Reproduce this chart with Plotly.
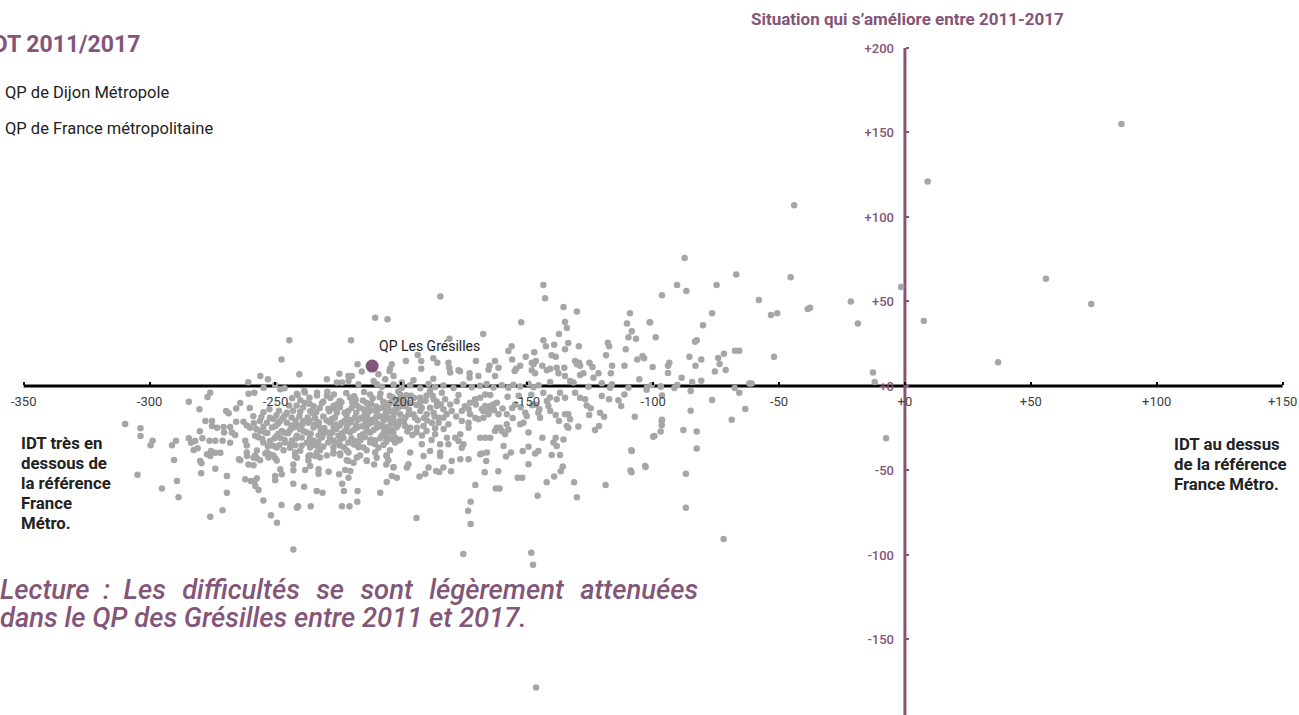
import plotly.graph_objects as go

W, H = 1299, 715
PURPLE = "#835578"
GREY = "#a6a6a6"

x_ticks = [-350, -300, -250, -200, -150, -100, -50, 0, 50, 100, 150]
x_labels = ["-350", "-300", "-250", "-200", "-150", "-100", "-50", "+0", "+50", "+100", "+150"]
y_ticks = [200, 150, 100, 50, 0, -50, -100, -150]
y_labels = ["+200", "+150", "+100", "+50", "+0", "-50", "-100", "-150"]

highlight_x = [-211.6]
highlight_y = [11.8]

pts_right = [(86, 155), (9, 121), (-44, 107), (56, 63.5), (74, 48.5), (7.5, 38.5), (37, 14), (-1.5, 58.6),
    (-21.5, 50), (-18.7, 37), (-12.7, 8), (-12, 2.4), (-7.5, -31), (-87.5, 75.8), (-67, 66), (-45.4, 64.3),
    (-90.5, 59.8), (-74.8, 59.8), (-86.8, 56.2), (-96.5, 53.7), (-58, 50.9), (-37.7, 46.3), (-38.6, 45.6),
    (-50.7, 43), (-53.2, 42), (-76.6, 43), (-101.4, 37.7), (-80.2, 35.9), (-99, 28.8), (-82.7, 27), (-83.4, 26.2),
    (-67.5, 20.9), (-65.8, 20.9), (-71.9, 19.1), (-74.2, 16.6), (-52, 17.3), (-85.6, 17.3), (-80.9, 15.6),
    (-104.2, 17.8), (-103.6, 16.4), (-93.6, 13.8), (-94.1, 12), (-100.2, 11.2), (-83.2, 12), (-73.6, 13),
    (-71.2, 9.5), (-75.5, 8.5), (-94.1, 7.7), (-88.7, 4.9), (-84.5, 2.4), (-80.9, 3.1), (-60.9, 1.4), (-61.8, 1.4),
    (-100.6, 0.6), (-97, -0.2), (-90.4, 0.6), (-91.6, -1.2), (-85.1, -3), (-67.6, -1.2), (-65.8, -4), (-96.5, -5.7),
    (-102.6, -2.2), (-76.6, -8.3), (-63.4, -13.6), (-85.1, -14.6), (-96.5, -20), (-68.8, -20), (-88, -26),
    (-82.7, -27), (-82.7, -37), (-97, -27), (-100, -30), (-87, -52), (-87, -72), (-72, -90.5), (-103, -48),
    (-109, -50), (-108.7, -38)]

pts_upper = [(-143.6, 59.8), (-142.9, 51.9), (-184.5, 52.9), (-205.5, 39.5), (-210.4, 40.3), (-135.6, 46.8),
    (-130.3, 44), (-109.2, 43), (-110.4, 36.9), (-108.5, 32.4), (-109.8, 28.8), (-106.8, 28), (-101.2, 37.7),
    (-152.4, 37.7), (-135, 37.9), (-134.3, 34.3), (-137.4, 30.8), (-167.5, 30.8), (-180.9, 28), (-143.6, 27),
    (-142.6, 23.5), (-139.3, 24.4), (-133.7, 25.5), (-129.5, 23.5), (-135, 21.7), (-156.2, 23.5), (-157.5, 20.7),
    (-147.2, 19.9), (-150.6, 17.3), (-156, 15.6), (-140.3, 18.2), (-138.7, 17.3), (-118, 25.6), (-117.5, 23.5),
    (-110.9, 21.7), (-118.7, 18.2), (-106.3, 15.6), (-111.4, 12), (-116.3, 12), (-116.8, 7.5), (-131, 14.8),
    (-129.4, 13.8), (-130.3, 12.8), (-125.3, 13.8), (-124.1, 11.2), (-129, 12), (-146.6, 14.8), (-148.2, 13.8),
    (-144, 12), (-147.5, 12.8), (-152.8, 12), (-154.4, 10.2), (-155, 8.9), (-148.2, 9.3), (-146.9, 7.5),
    (-138.3, 10.8), (-135.3, 10.8), (-142.2, 9.3), (-140.9, 10.2), (-137.6, 7.5), (-135, 5.9), (-127.7, 7.5),
    (-129, 6.5), (-121.7, 7.5), (-123.7, 4.9), (-133, 3), (-131.6, 2), (-140.9, 2.4), (-105.5, 4), (-120.4, 1.6),
    (-116.4, 1), (-125.7, -0.4), (-109.8, -1), (-102.5, -1), (-96.9, -0.4), (-117.1, -1), (-162.8, 14.8),
    (-165, 12), (-161.4, 10.8), (-165.4, 9.6), (-162.8, 5.9), (-170.4, 14.8), (-181.3, 13.8), (-181, 10.8),
    (-180.6, 7.9), (-177.3, 9.3), (-176.7, 8.7), (-172.9, 7.5), (-172.9, 4.9), (-169.4, 5.9), (-187.3, 16.4),
    (-185.7, 13.8), (-192.1, 10.2), (-192.1, 14.8), (-193.5, 18.4), (-198.2, 14.8), (-204.5, 10.2), (-195.2, 3.4),
    (-187.3, 4.3), (-199.8, 2), (-203.8, 12.8), (-204.7, 8.9), (-206.4, 4), (-203.1, 5.9), (-209.1, 6.9),
    (-211, 3), (-209.7, 1), (-217.4, 12.8), (-215.7, 8.5), (-220, 27), (-217, 1), (-229.6, 4), (-225.6, 2),
    (-223.6, 2), (-224.6, 7.3), (-221, 5.9), (-219.7, 5.9), (-221, 3), (-240.5, 6.9), (-247.6, 15.6), (-244.5, 27),
    (-260.8, 2.2), (-256, 5.9), (-253, 4), (-254.7, -1), (-250.1, 0.6), (-248.1, -2), (-246.4, -1.4),
    (-241.5, -4.6), (-238.6, -3), (-233.5, -4)]

pts_axis = [(-207.7, -0.5), (-203.1, 0.8), (-199.8, -1), (-196.5, 0.4), (-192.5, -1.4), (-189.2, 1.2), (-186.6, -0.6),
    (-183.3, 0.3), (-179.3, -1.2), (-175.4, 0.9), (-172, -0.7), (-168.7, 0.2), (-166.1, 1.1), (-163.4, -0.9),
    (-160.1, 0.5), (-157.5, -1.1), (-155.5, 0.7), (-152.8, -0.3), (-149.5, 1.3), (-147.5, -0.8), (-145.5, 0.4)]

pts_lower = [(-137, -4), (-135, -6.9), (-138.3, -7.9), (-131, -4), (-129, -6.9), (-127, -7.9), (-126.4, -11.5),
    (-124.8, -13.2), (-125.4, -17.2), (-120.4, -6), (-117.5, -7.9), (-113.8, -8.5), (-112.7, -11.9), (-111.4, -5),
    (-121.1, -15.8), (-119.5, -18.2), (-107.3, -18.2), (-96.6, -20.7), (-96.6, -23.3), (-99.5, -29.6),
    (-108.5, -38.5), (-103.2, -47.3), (-121.5, -23.7), (-123.1, -26), (-129.7, -24), (-133.7, -16.8), (-133, -19.7),
    (-135, -16.8), (-134.3, -23.7), (-133.7, -24.7), (-137.4, -20.7), (-138.7, -17.2), (-141.6, -11.9),
    (-140.9, -14.8), (-145.2, -13.8), (-144.9, -18.8), (-145.6, -15.8), (-143.6, -4), (-142.2, -8.9),
    (-150.8, -15.8), (-150.2, -17.8), (-151.5, -21.7), (-152.8, -22.7), (-149.5, -27.6), (-144, -30.6),
    (-138.7, -30.6), (-135.6, -31.6), (-139.6, -33.5), (-138.3, -35.5), (-140.3, -40.8), (-137, -40.8),
    (-135.9, -47.7), (-146.9, -40), (-145.6, -38.5), (-151.8, -38.5), (-149.5, -35.9), (-149.5, -46.3),
    (-156.5, -39.4), (-158.4, -41.8), (-159.4, -35.5), (-160.8, -24.7), (-158.1, -22.7), (-157.5, -25.7),
    (-158.8, -28.6), (-168.7, -30.6), (-166.7, -30.6), (-164.7, -30.6), (-166, -39.4), (-168, -40), (-166.3, -44.4),
    (-154.8, -10.9), (-158.1, -16.8), (-162.1, -24.7), (-160.1, -26.6), (-162.8, -26.6), (-192.8, -53.5),
    (-190.5, -51.9), (-186.2, -50.3), (-184.9, -50.9), (-180.3, -50.5), (-166.9, -51), (-161.5, -50.5),
    (-170.6, -58.6), (-162.5, -60.6), (-161, -60.6), (-153.8, -54.3), (-152, -54.3), (-142.3, -57), (-139.3, -53.5),
    (-136.7, -50.5), (-145.9, -64.9), (-131.4, -57), (-130.3, -65.9), (-118.9, -58.6), (-108.6, -51),
    (-172.5, -68.5), (-173.5, -73.8), (-172.5, -81.7), (-194, -78.1), (-175.4, -99.4), (-148.4, -98.7),
    (-147.7, -105.8), (-146.5, -178.4)]

pts_middle = [(-166.7, -5), (-164.7, -5.4), (-168.7, -6.9), (-170.7, -7.9), (-172.7, -9.9), (-177.3, -5.4),
    (-183.9, -4), (-182.6, -7.9), (-188.6, -3), (-187.2, -7.9), (-192.5, -6.9), (-196.5, -9.9), (-199.8, -11.9),
    (-204.4, -9.9), (-202.4, -13.8), (-198.5, -11.9), (-205.8, -14.8), (-207.7, -12.9), (-191.9, -12.9),
    (-188.6, -12.9), (-185.9, -11.9), (-183.3, -13.8), (-180.6, -10.9), (-180, -14.8), (-182, -16.8),
    (-185.2, -18.8), (-187.2, -15.8), (-189.9, -16.8), (-192.5, -14.8), (-195.2, -16.8), (-197.2, -16.8),
    (-200.5, -16.8), (-203.8, -18.8), (-206.4, -19.7), (-207.1, -24.7), (-204.4, -27.6), (-202.4, -30.6),
    (-200.5, -31.6), (-196.5, -24.7), (-198.5, -23.7), (-193.8, -24.7), (-191.2, -23.7), (-187.9, -21.7),
    (-185.2, -21.7), (-183.3, -18.8), (-181.3, -22.7), (-176, -14.8), (-172.7, -16.8), (-173.3, -13.8),
    (-167.4, -14.8), (-165.4, -13.8), (-163.4, -10.9), (-162.1, -9.9), (-164.7, -11.9), (-166.7, -11.9),
    (-168, -13.8), (-169.4, -19.7), (-167.4, -18.8), (-165.4, -16.8), (-161.4, -16.8), (-176, -20.7),
    (-173.3, -21.7), (-173.3, -24.7), (-176.6, -28.6), (-178.6, -30.6), (-177.3, -32.6), (-175.3, -34.5),
    (-181.3, -34.5), (-184.6, -34.5), (-191.9, -34.5), (-196.5, -39.4), (-188.6, -38.5), (-184.6, -39.4),
    (-184.6, -41.4), (-191.2, -41.4), (-181.9, -30.6), (-186.6, -28.6), (-197.2, -46.3), (-197.8, -48.3),
    (-203.1, -48.3), (-205.8, -41.4), (-176.6, -43.4), (-180, -44.4), (-173.3, -43.4), (-176, -36.5),
    (-168.7, -40.4), (-183.3, -48.3), (-189.2, -48.3)]

pts_far_left = [(-309.7, -22.5), (-303.6, -25), (-303.6, -29.6), (-298.8, -32.4), (-299.6, -35.1), (-304.8, -52.5),
    (-295.1, -60.6), (-289.1, -56.2), (-288.5, -65.9), (-290.3, -43.8), (-289.5, -32.4), (-291.1, -35.1),
    (-284.4, -31), (-283.5, -33.6), (-281.9, -32.6), (-279, -31), (-276.2, -32.4), (-273.9, -32.4), (-271, -32.4),
    (-282.5, -37.9), (-280.9, -36.9), (-280, -26.8), (-268, -33.6), (-279.9, -44.4), (-279.4, -45.8),
    (-277.2, -40.4), (-275.6, -38.5), (-273.9, -39.5), (-275.9, -41.4), (-271.9, -39.5), (-273.9, -49),
    (-279.5, -51.7), (-269.3, -53.3), (-269.3, -63.2), (-275.9, -77.4), (-271, -73.6), (-254.8, -67.7),
    (-251.8, -76.5), (-249.4, -80.9), (-242.9, -96.7), (-247.6, -70.4), (-241.5, -72), (-241, -71.2), (-236, -71.2),
    (-223.6, -71.2), (-220.6, -71.2), (-217.5, -68.5), (-222.8, -62.2), (-217.4, -62.2), (-208.4, -63.2),
    (-233.6, -62.2), (-231.3, -63.2), (-238.6, -59.6), (-242.9, -57.8), (-258.3, -56.2), (-257.4, -54.6),
    (-262, -55.2), (-259.8, -56.2), (-258, -59.2), (-256.7, -61.6), (-250.1, -55.8), (-250.1, -53.3),
    (-248.1, -49.3), (-247.5, -52.3), (-242.9, -49.9), (-242.9, -46.4), (-238.2, -49.7), (-236.2, -47.4),
    (-232.9, -49.3), (-232.9, -51.9), (-228.9, -50.7), (-224.7, -52.3), (-222.3, -49.7), (-220.3, -50.3),
    (-221, -54.3), (-223.5, -57.8), (-205.8, -56.8), (-203.8, -53.3), (-201.8, -54.3), (-260.7, -46.4),
    (-258.7, -46.9), (-264.5, -43.4), (-261.3, -41.4), (-257.4, -42.8), (-254, -39.9), (-252.1, -40.5),
    (-250.1, -42.8), (-242.2, -41.4), (-236.9, -41.4), (-234.2, -41.4), (-227, -39.9), (-224.3, -39.9),
    (-221, -44.4), (-219, -45.4), (-213.7, -44.4), (-210.8, -46.4), (-205.8, -41.4), (-206, -46.4), (-203.1, -48),
    (-284.4, -9.3), (-280.2, -13.8), (-275.9, -4), (-277, -6.5), (-269.6, -14.8), (-268.6, -16.2), (-265.6, -13.4),
    (-264, -10.1), (-277.8, -20.7), (-275.2, -20.7), (-275.2, -23.7), (-273.2, -24.7), (-270.6, -24.3),
    (-268, -24.3), (-270.4, -27.6), (-267.3, -27.6), (-266, -29), (-265.6, -21.1), (-262.7, -21.1),
    (-260.7, -4.6), (-258.4, -4)]

pts_core = [(-241.2, -5.3), (-238.3, -3.9), (-233.5, -5.6), (-229.4, -3.4), (-226.8, -5.1), (-221.9, -4.2), (-218.7, -6.1),
    (-214.8, -3.6), (-212.4, -5), (-208.3, -4.4), (-204.6, -5.8), (-201.2, -3.2),
    (-240.1, -8.4), (-236.5, -6.9), (-231, -9.2), (-228.2, -7.1), (-224.5, -8.9), (-220.4, -6.8), (-215.3, -8.6),
    (-211.4, -7.3), (-207.2, -9.3), (-203.4, -6.6),
    (-241.6, -11.6), (-238.2, -9.9), (-234.9, -12), (-231.5, -10.1), (-227, -11.8), (-223.8, -9.7), (-217.8, -11.4),
    (-213.9, -9.9), (-210, -12.1), (-205.9, -10.3), (-201.9, -11.2),
    (-260.2, -13.1), (-243, -14.6), (-239, -12.7), (-236.2, -15), (-232.4, -13.1), (-228.6, -14.9), (-224.4, -12.6),
    (-221.1, -14.8), (-216.6, -12.9), (-212.6, -15), (-208.7, -13.2), (-204.6, -14.9), (-201.2, -12.7),
    (-258.8, -17.9), (-254.8, -15.6), (-249.6, -17.3), (-245.5, -15.8), (-240.5, -17.9), (-235, -16.1),
    (-231, -18), (-225.6, -15.7), (-221.7, -17.8), (-217.9, -15.9), (-213.6, -17.6), (-209.7, -16), (-206, -18),
    (-202.8, -15.8),
    (-256.2, -20.7), (-252.2, -18.8), (-248.3, -20.9), (-243.6, -18.7), (-239, -20.8), (-234.3, -18.9),
    (-229.7, -20.5), (-226.4, -18.7), (-222.4, -20.6), (-218.4, -18.6), (-214.3, -20.9), (-210.3, -19), (-207, -20.4),
    (-203.2, -18.8),
    (-261.4, -23.4), (-253.4, -21.7), (-250.1, -23.8), (-245.5, -21.8), (-240.9, -23.5), (-236.9, -21.7),
    (-232.9, -23.6), (-228.3, -21.6), (-224.4, -23.4), (-220.4, -21.7), (-215.7, -23.8), (-211.8, -21.6),
    (-207.8, -23.5), (-203.8, -22),
    (-260.1, -24.7), (-256.1, -26.7), (-251.4, -24.5), (-247.5, -26.6), (-242.9, -24.6), (-238.9, -26.7),
    (-234.9, -24.6), (-230.9, -26.5), (-226.9, -24.5), (-222.4, -26.6), (-217.7, -24.7), (-213.7, -26.5),
    (-209.8, -24.6), (-205.8, -26.7), (-201.9, -24.4),
    (-258.1, -29.4), (-254.1, -27.6), (-249.5, -29.6), (-246.2, -27.7), (-241.5, -29.5), (-237.6, -27.5),
    (-232.9, -29.3), (-229, -27.6), (-225, -29.5), (-220.4, -27.4), (-216.4, -29.6), (-212.4, -27.5), (-207.8, -29.4),
    (-203.2, -27.6),
    (-262, -32.4), (-256.8, -30.4), (-252.2, -32.5), (-248.2, -30.6), (-243.5, -32.3), (-239.6, -30.5),
    (-234.9, -32.4), (-231.6, -30.5), (-227, -32.2), (-223, -30.6), (-218.4, -32.5), (-214.4, -30.4), (-210.4, -32.3),
    (-205.8, -30.5), (-201.2, -32.2),
    (-261.4, -35.2), (-254.8, -33.5), (-250.8, -35.3), (-246.2, -33.4), (-242.2, -35.1), (-237.6, -33.6),
    (-233.6, -35.3), (-229, -33.5), (-224.4, -35.2), (-221, -33.4), (-217, -35.3), (-212.4, -33.5), (-207.1, -35),
    (-202.5, -33.5),
    (-257.4, -38.2), (-249.5, -36.4), (-246.8, -38.1), (-244.2, -36.5), (-240.2, -38.3), (-236.2, -36.4),
    (-232.3, -38.1), (-227, -36.4), (-221.7, -38.2), (-217, -36.3), (-213.8, -38.1), (-209.1, -36.5), (-204.5, -38),
    (-261.4, -39.3), (-258.1, -41.1), (-253.4, -39.4), (-250.8, -41.2), (-242.2, -39.3), (-236.2, -41), (-233.6, -39.4),
    (-229.6, -41.2), (-227, -39.4), (-224.3, -41), (-221, -39.3), (-216.4, -41.2), (-210.4, -39.3), (-205.8, -41),
    (-264, -44), (-258.7, -42.4), (-256.1, -44), (-252.8, -42.3), (-249.5, -44.1), (-241.5, -42.4), (-236.9, -44.1),
    (-232.3, -42.3), (-221.7, -44), (-217.7, -42.3), (-213.8, -44.1), (-209.8, -42.4), (-205.2, -44),
    (-215, -13.7), (-217.2, -20), (-219.5, -9.6), (-222.5, -15.8), (-214, -24.8), (-212, -10.5), (-226, -22.8),
    (-229, -13.5), (-232, -26.5), (-236.5, -20.5), (-242, -24.2), (-245, -28), (-247, -19), (-204, -21.8), (-200.5, -20.4),
    (-198, -5.5), (-195, -7), (-192.5, -9.6), (-190, -5.6), (-186, -9.2), (-200.5, -8), (-197, -14), (-194, -11.2),
    (-189.8, -20.5), (-193.5, -20.3), (-199, -21), (-195.6, -29), (-191.8, -29.3), (-188, -32), (-206, -33), (-183.2, -25.5)]

pts_core_fill = [(-243.4, -7.2), (-236.4, -10.6), (-229.6, -5.8), (-225.8, -11), (-218.2, -8.2), (-212.8, -12.8),
    (-208.6, -6.7), (-205.2, -12.4), (-200.4, -5.2), (-252.4, -13.8), (-248.6, -14.6), (-244.6, -11.6), (-240.2, -15.2),
    (-233.8, -15.4), (-226.6, -13.2), (-219.8, -13), (-214.4, -16.2), (-210.6, -14.4), (-206.2, -16.2), (-255.6, -18.4),
    (-250.8, -19.6), (-246.4, -17.6), (-242, -20.6), (-237.2, -18.6), (-232.8, -21.4), (-227.6, -19.6), (-223.8, -21.8),
    (-219.8, -20.2), (-215.8, -18.8), (-212, -20.2), (-208.2, -18), (-204.2, -19.8), (-258.6, -22), (-254.8, -24.2),
    (-249, -22.4), (-243.6, -23.4), (-239.4, -23), (-234.4, -22.8), (-230.6, -24.8), (-225.8, -25.4), (-221.6, -24),
    (-218, -23.2), (-213.2, -22.6), (-209.4, -22.4), (-205.4, -24.2), (-201.2, -23), (-257.6, -25.4), (-253.2, -27.8),
    (-248.8, -28.2), (-244.2, -26), (-240.2, -25.6), (-236, -28.2), (-231.2, -28.8), (-227.4, -27.6), (-223.6, -28),
    (-219, -26), (-215.2, -28.6), (-211, -26), (-207, -28), (-204, -25.8), (-255.2, -31.4), (-250.4, -31), (-246.4, -31.8),
    (-241.8, -31), (-236.4, -31), (-233, -33.2), (-228.4, -30.6), (-224.4, -31.8), (-219.8, -31), (-216.2, -32),
    (-212, -31.6), (-208.4, -31), (-204, -31.4), (-253, -35.8), (-248.4, -35), (-244, -34.6), (-239.6, -35.4),
    (-235.4, -34.8), (-231, -35.8), (-226.4, -34), (-222.8, -36.2), (-218.8, -34.6), (-215, -36.4), (-210.6, -34.4),
    (-190.4, -8.8), (-187.6, -5.8), (-184.4, -11), (-196.2, -5.8), (-199, -9), (-202, -8.4), (-198.4, -18.6), (-194.6, -18.8),
    (-191, -19), (-186.8, -18), (-201.8, -21.8), (-197.6, -27), (-194, -27.4), (-190, -26.6), (-186.6, -25), (-170.4, -11),
    (-174.8, -12), (-178, -9), (-178.2, -18), (-170.6, -19), (-163.2, -14.4), (-159.8, -13.4), (-156, -13), (-148, -11.4),
    (-152.6, -12.6), (-155.8, -19), (-146.8, -11), (-141, -6.8), (-148.4, -5.2), (-153.4, -5.8), (-157.8, -6.4)]

groups = [pts_right, pts_upper, pts_axis, pts_lower, pts_middle, pts_far_left, pts_core, pts_core_fill]
cloud_x = [p[0] for g in groups for p in g]
cloud_y = [p[1] for g in groups for p in g]

fig = go.Figure()
fig.add_trace(go.Scatter(x=[x_ticks[0], x_ticks[-1]], y=[0, 0], mode="lines",
                         line=dict(color="#000000", width=3), hoverinfo="skip"))
fig.add_trace(go.Scatter(x=[0, 0], y=[y_ticks[0], -200], mode="lines",
                         line=dict(color=PURPLE, width=3), hoverinfo="skip"))
fig.add_trace(go.Scatter(x=cloud_x, y=cloud_y, mode="markers",
                         marker=dict(color=GREY, size=6.5, line=dict(width=0))))
fig.add_trace(go.Scatter(x=highlight_x, y=highlight_y, mode="markers",
                         marker=dict(color=PURPLE, size=13, line=dict(width=0))))

def note(text, px, py, size=15, color="#222222", weight=400, italic=False, anchor="left"):
    fig.add_annotation(text=text, x=px / W, y=1 - py / H, xref="paper", yref="paper", xanchor=anchor,
                       yanchor="middle", showarrow=False, align="left",
                       font=dict(family="Roboto", size=size, color=color, weight=weight,
                                 style="italic" if italic else "normal"), borderpad=0, borderwidth=0)

note("IDT 2011/2017", 140, 45, size=23, color=PURPLE, weight=700, anchor="right")
note("QP de Dijon Métropole", 5, 92, size=16.5)
note("QP de France métropolitaine", 5, 128, size=16.5)
note("Situation qui s’améliore entre 2011-2017", 751, 19, size=17, color=PURPLE, weight=700)
note("QP Les Grésilles", 379, 346, size=14)
for i, line in enumerate(["IDT très en", "dessous de", "la référence", "France", "Métro."]):
    note(line, 21, 443 + 20 * i, size=16.8, weight=700)
for i, line in enumerate(["IDT au dessus", "de la référence", "France Métro."]):
    note(line, 1174, 444 + 20 * i, size=16.8, weight=700)
note("Lecture\u00a0\u00a0:\u00a0\u00a0Les\u00a0\u00a0\u200adifficultés\u00a0\u00a0\u200ase\u00a0\u00a0\u200asont\u00a0\u00a0\u200alégèrement\u00a0\u00a0\u200aattenuées", 0, 590,
     size=27.4, color=PURPLE, weight=500, italic=True)
note("dans le QP des Grésilles entre 2011 et 2017.", 0, 618, size=27.4, color=PURPLE, weight=500, italic=True)

fig.update_layout(
    width=W, height=H, margin=dict(l=0, r=0, t=0, b=0), autosize=False,
    paper_bgcolor="white", plot_bgcolor="white", showlegend=False,
    xaxis=dict(range=[-359.4, 156.5], showgrid=False, zeroline=False, showline=False,
               anchor="free", position=330 / 715, tickmode="array", tickvals=x_ticks, ticktext=x_labels,
               ticks="inside", ticklen=3, tickwidth=2, tickcolor="#000000",
               tickfont=dict(family="Roboto", size=13, color="#404040"), ticklabelstandoff=7),
    yaxis=dict(range=[-194.7, 228.4], showgrid=False, zeroline=False, showline=False,
               anchor="free", position=905 / 1299, side="left", tickmode="array", tickvals=y_ticks, ticktext=y_labels,
               ticks="inside", ticklen=3, tickwidth=2, tickcolor=PURPLE,
               tickfont=dict(family="Roboto", size=13, color=PURPLE, weight=500), ticklabelstandoff=11),
)
fig.write_html("out.html", config={"displayModeBar": False},
               post_script="document.body.style.margin='0';document.body.style.overflow='hidden';")
